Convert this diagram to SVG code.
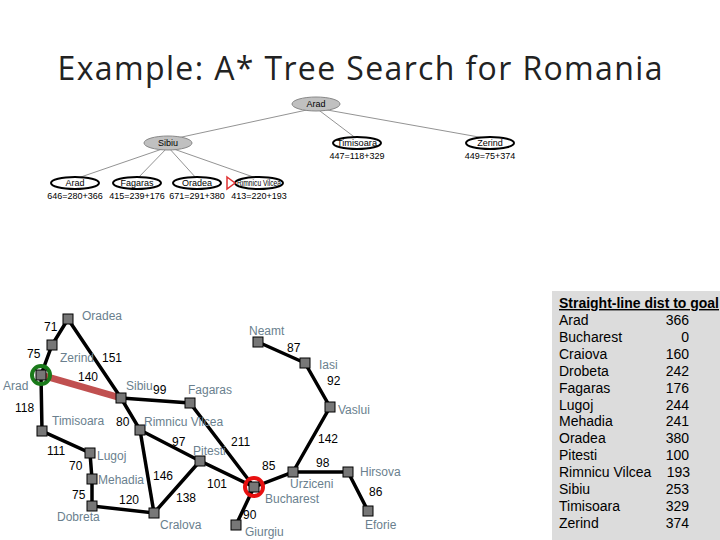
<svg xmlns="http://www.w3.org/2000/svg" width="720" height="540" viewBox="0 0 720 540">
<style>
.t{font-family:"Liberation Sans",Arial,sans-serif;font-size:9px;fill:#000}
.te{fill:#fff;stroke:#000;stroke-width:2}
.tg{fill:#c0c0c0;stroke:#888;stroke-width:1}
.tl{stroke:#777;stroke-width:0.8}
.r{stroke:#000;stroke-width:3.5;fill:none}
.c{font-family:"Liberation Sans",Arial,sans-serif;font-size:12px;fill:#6a7f8e}
.d{font-family:"Liberation Sans",Arial,sans-serif;font-size:12px;fill:#000}
.h{font-family:"Liberation Sans",Arial,sans-serif;font-size:14px;fill:#000}
</style>
<rect width="720" height="540" fill="#fff"/>
<text x="360" y="80" text-anchor="middle" font-family="'Open Sans','Noto Sans',sans-serif" font-size="32" textLength="605" fill="#222">Example: A* Tree Search for Romania</text>
<g id="tree-edges">
<line class="tl" x1="316" y1="108" x2="168" y2="140"/>
<line class="tl" x1="316" y1="108" x2="357" y2="139"/>
<line class="tl" x1="316" y1="108" x2="490" y2="139"/>
<line class="tl" x1="168" y1="147" x2="75" y2="179"/>
<line class="tl" x1="168" y1="147" x2="137" y2="179"/>
<line class="tl" x1="168" y1="147" x2="197" y2="179"/>
<line class="tl" x1="168" y1="147" x2="259" y2="179"/>
</g>
<g id="t-arad"><ellipse class="tg" cx="316" cy="104" rx="24" ry="7"/><text class="t" x="316" y="107" text-anchor="middle">Arad</text></g>
<g id="t-sibiu"><ellipse class="tg" cx="168" cy="143" rx="24" ry="7"/><text class="t" x="168" y="146" text-anchor="middle">Sibiu</text></g>
<g id="t-tim"><ellipse class="te" cx="357" cy="143" rx="24" ry="6"/><text class="t" x="357" y="146" text-anchor="middle" textLength="40" lengthAdjust="spacingAndGlyphs">Timisoara</text><text class="t" x="357" y="159" text-anchor="middle">447=118+329</text></g>
<g id="t-zer"><ellipse class="te" cx="490" cy="143" rx="24" ry="6"/><text class="t" x="490" y="146" text-anchor="middle">Zerind</text><text class="t" x="490" y="159" text-anchor="middle">449=75+374</text></g>
<g id="t-arad2"><ellipse class="te" cx="75" cy="183" rx="24" ry="6"/><text class="t" x="75" y="186" text-anchor="middle">Arad</text><text class="t" x="75" y="199" text-anchor="middle">646=280+366</text></g>
<g id="t-fag"><ellipse class="te" cx="137" cy="183" rx="24" ry="6"/><text class="t" x="137" y="186" text-anchor="middle">Fagaras</text><text class="t" x="137" y="199" text-anchor="middle">415=239+176</text></g>
<g id="t-ora"><ellipse class="te" cx="197" cy="183" rx="24" ry="6"/><text class="t" x="197" y="186" text-anchor="middle">Oradea</text><text class="t" x="197" y="199" text-anchor="middle">671=291+380</text></g>
<g id="t-rim"><ellipse class="te" cx="259" cy="183" rx="24" ry="6"/><text class="t" x="259" y="186" text-anchor="middle" textLength="44" lengthAdjust="spacingAndGlyphs">Rimnicu Vilcea</text><text class="t" x="259" y="199" text-anchor="middle">413=220+193</text><path d="M227,177 L235,183 L227,189 Z" fill="none" stroke="#e03030" stroke-width="1.5"/></g>
<g id="roads">
<polyline class="r" points="41,375 52,345 68,319 121,398"/>
<line x1="41" y1="375" x2="121" y2="398" stroke="#c05050" stroke-width="7"/>
<polyline class="r" points="41,375 42,431 90,453 92,479 92,506 154,513 200,461 254,487 236,525"/>
<polyline class="r" points="121,398 140,430 200,461"/>
<line class="r" x1="140" y1="430" x2="154" y2="513"/>
<polyline class="r" points="121,398 190,403 254,487 293,472 348,472 368,511"/>
<polyline class="r" points="293,472 330,407 305,363 258,342"/>
</g>
<g id="map-nodes">
<circle cx="41" cy="375" r="9" fill="none" stroke="#1a7a1a" stroke-width="4"/>
<circle cx="254" cy="487" r="9" fill="none" stroke="#e81010" stroke-width="4"/>
<g fill="#777" stroke="#000" stroke-width="1">
<rect x="63" y="314" width="10" height="10"/><rect x="47" y="340" width="10" height="10"/><rect x="36" y="370" width="10" height="10"/>
<rect x="37" y="426" width="10" height="10"/><rect x="85" y="448" width="10" height="10"/><rect x="87" y="474" width="10" height="10"/>
<rect x="87" y="501" width="10" height="10"/><rect x="149" y="508" width="10" height="10"/><rect x="135" y="425" width="10" height="10"/>
<rect x="116" y="393" width="10" height="10"/><rect x="185" y="398" width="10" height="10"/><rect x="195" y="456" width="10" height="10"/>
<rect x="249" y="482" width="10" height="10"/><rect x="231" y="520" width="10" height="10"/><rect x="288" y="467" width="10" height="10"/>
<rect x="343" y="467" width="10" height="10"/><rect x="363" y="506" width="10" height="10"/><rect x="325" y="402" width="10" height="10"/>
<rect x="300" y="358" width="10" height="10"/><rect x="253" y="337" width="10" height="10"/>
</g>
</g>
<g id="city-labels">
<text class="c" x="82" y="320">Oradea</text><text class="c" x="60" y="362">Zerind</text><text class="c" x="3" y="390">Arad</text>
<text class="c" x="52" y="425">Timisoara</text><text class="c" x="97" y="460">Lugoj</text><text class="c" x="98" y="484">Mehadia</text>
<text class="c" x="57" y="521">Dobreta</text><text class="c" x="160" y="529">Cralova</text><text class="c" x="144" y="426">Rimnicu Vilcea</text>
<text class="c" x="126" y="390">Sibiu</text><text class="c" x="188" y="394">Fagaras</text><text class="c" x="193" y="455">Pitesti</text>
<text class="c" x="265" y="503">Bucharest</text><text class="c" x="245" y="536">Giurgiu</text><text class="c" x="290" y="488">Urziceni</text>
<text class="c" x="360" y="476">Hirsova</text><text class="c" x="365" y="529">Eforie</text><text class="c" x="338" y="414">Vaslui</text>
<text class="c" x="319" y="369">Iasi</text><text class="c" x="249" y="335">Neamt</text>
</g>
<g id="distances">
<text class="d" x="44" y="331">71</text><text class="d" x="27" y="358">75</text><text class="d" x="102" y="362">151</text>
<text class="d" x="78" y="381">140</text><text class="d" x="15" y="412">118</text><text class="d" x="153" y="394">99</text>
<text class="d" x="116" y="426">80</text><text class="d" x="47" y="455">111</text><text class="d" x="69" y="470">70</text>
<text class="d" x="72" y="499">75</text><text class="d" x="119" y="504">120</text><text class="d" x="153" y="480">146</text>
<text class="d" x="176" y="502">138</text><text class="d" x="172" y="446">97</text><text class="d" x="231" y="446">211</text>
<text class="d" x="207" y="488">101</text><text class="d" x="262" y="470">85</text><text class="d" x="243" y="519">90</text>
<text class="d" x="287" y="352">87</text><text class="d" x="327" y="385">92</text><text class="d" x="318" y="443">142</text>
<text class="d" x="316" y="467">98</text><text class="d" x="369" y="496">86</text>
</g>
<g id="sld-table">
<rect x="552" y="291" width="168" height="249" fill="#dcdcdc"/>
<text class="h" x="559" y="308" font-weight="bold" text-decoration="underline" textLength="160" lengthAdjust="spacingAndGlyphs">Straight-line dist to goal</text>
<g class="h">
<text x="559" y="325">Arad</text><text x="559" y="342">Bucharest</text><text x="559" y="359">Craiova</text><text x="559" y="376">Drobeta</text>
<text x="559" y="393">Fagaras</text><text x="559" y="410">Lugoj</text><text x="559" y="426">Mehadia</text><text x="559" y="443">Oradea</text>
<text x="559" y="460">Pitesti</text><text x="559" y="477">Rimnicu Vilcea</text><text x="559" y="494">Sibiu</text><text x="559" y="511">Timisoara</text><text x="559" y="528">Zerind</text>
</g>
<g class="h" text-anchor="end">
<text x="689" y="325">366</text><text x="689" y="342">0</text><text x="689" y="359">160</text><text x="689" y="376">242</text>
<text x="689" y="393">176</text><text x="689" y="410">244</text><text x="689" y="426">241</text><text x="689" y="443">380</text>
<text x="689" y="460">100</text><text x="690" y="477">193</text><text x="689" y="494">253</text><text x="689" y="511">329</text><text x="689" y="528">374</text>
</g>
</g>
</svg>
